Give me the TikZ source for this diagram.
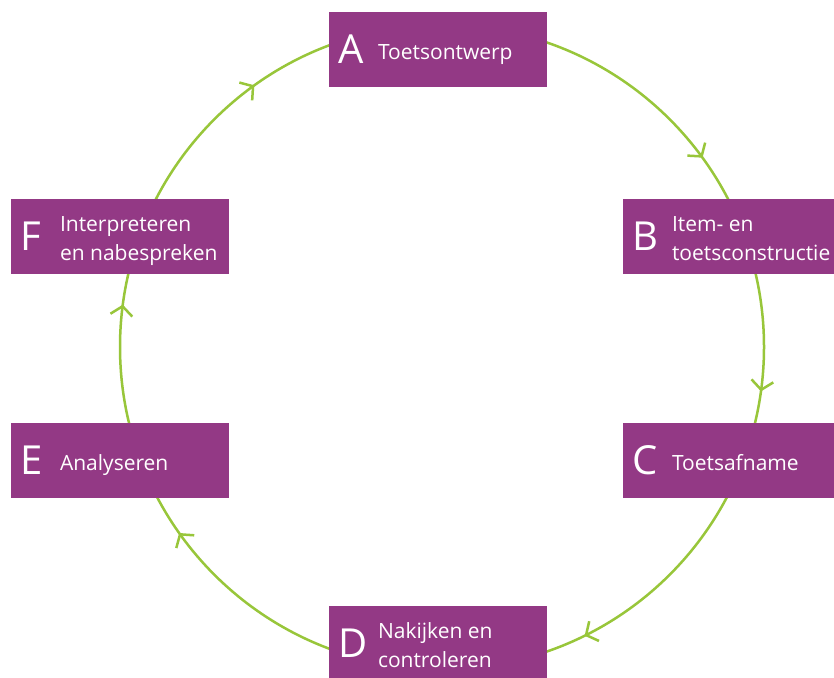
\documentclass[tikz,border=0pt]{standalone}
\usepackage{fontspec}
\setmainfont{Open Sans}
\usetikzlibrary{arrows.meta,decorations.markings}

\definecolor{cyclepurple}{RGB}{147,57,133}
\definecolor{cyclegreen}{RGB}{152,198,58}

\tikzset{
  barb/.tip={Straight Barb[length=9pt,width=22pt]},
}

\begin{document}
\begin{tikzpicture}[x=1pt,y=1pt,
  phase/.style={fill=cyclepurple,minimum width=218pt,minimum height=75pt,inner sep=0pt},
  phaseletter/.style={anchor=west,inner sep=0pt,text=white,font=\fontsize{40}{40}\selectfont},
  phasetext/.style={anchor=base west,inner sep=0pt,text=white,align=left,font=\fontsize{21}{29}\selectfont},
  ring/.style={cyclegreen,line width=2.5pt,postaction={decorate},
    decoration={markings,
      mark=at position 0.100 with {\arrowreversed{barb}},
      mark=at position 0.349 with {\arrowreversed{barb}},
      mark=at position 0.479 with {\arrowreversed{barb}},
      mark=at position 0.598 with {\arrowreversed{barb}},
      mark=at position 0.823 with {\arrowreversed{barb}},
      mark=at position 0.978 with {\arrowreversed{barb}}}}]

% Page size of the reference
\useasboundingbox (0,0) rectangle (834,-677);
\fill[white] (0,0) rectangle (834,-677);

% The cycle behind the boxes
\coordinate (middle) at (442,-347);
\draw[ring] (middle) circle (322);

% Boxes: name/x/y/shift of last baseline/text
\foreach \n/\x/\y/\dy/\txt in {
    A/438/-49.5/-9.8/Toetsontwerp,
    B/732/-236.5/-23.5/{Item- en\\toetsconstructie},
    C/732/-460.5/-9.8/Toetsafname,
    D/438/-643.5/-23.5/{Nakijken en\\controleren},
    E/120/-460.5/-9.8/Analyseren,
    F/120/-236.5/-23.5/{Interpreteren\\en nabespreken}} {
    \node[phase] (\n) at (\x,\y) {};
    \node[phaseletter] (\n-letter) at ([xshift=9]\n.west) {\n};
    \node[phasetext] (\n-text) at ([xshift=49,yshift=\dy]\n.west) {\txt};
}

\end{tikzpicture}
\end{document}
